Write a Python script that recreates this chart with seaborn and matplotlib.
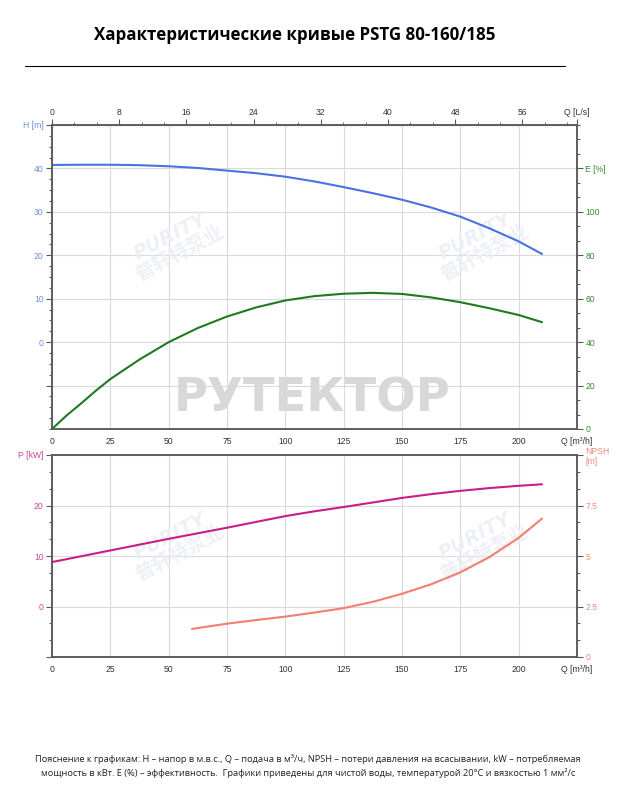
import matplotlib
matplotlib.use("Agg")
import matplotlib.pyplot as plt
from matplotlib import font_manager
from matplotlib.ticker import MultipleLocator
import seaborn as sns

# head curve H [m] vs Q [m3/h]
q_head = [0, 12.5, 25, 37.5, 50, 62.5, 75, 87.5, 100, 112.5, 125, 137.5, 150, 162.5, 175, 187.5, 200, 210]
head_m = [40.8, 40.85, 40.85, 40.75, 40.5, 40.1, 39.5, 38.9, 38.1, 37.0, 35.7, 34.3, 32.8, 31.0, 28.9, 26.2, 23.2, 20.3]

# efficiency E [%]
q_eff = [0, 6, 12.5, 18.75, 25, 37.5, 50, 62.5, 75, 87.5, 100, 112.5, 125, 137.5, 150, 162.5, 175, 187.5, 200, 210]
eff_pct = [0, 6.0, 11.8, 17.6, 23.0, 32.0, 40.0, 46.5, 51.8, 56.0, 59.2, 61.2, 62.3, 62.7, 62.2, 60.6, 58.4, 55.6, 52.5, 49.2]

# power P [kW]
q_power = [0, 25, 50, 75, 100, 112.5, 125, 137.5, 150, 162.5, 175, 187.5, 200, 210]
power_kw = [8.8, 11.1, 13.4, 15.6, 17.9, 18.85, 19.7, 20.6, 21.5, 22.25, 22.9, 23.45, 23.9, 24.2]

# NPSH [m]
q_npsh = [60, 75, 87.5, 100, 112.5, 125, 137.5, 150, 162.5, 175, 187.5, 200, 210]
npsh_m = [1.39, 1.65, 1.83, 2.0, 2.2, 2.42, 2.73, 3.13, 3.6, 4.19, 4.95, 5.9, 6.85]

q_ticks = [0, 25, 50, 75, 100, 125, 150, 175, 200, 225]
q_labels = ["0", "25", "50", "75", "100", "125", "150", "175", "200", "Q [m³/h]"]
ls_ticks = [0, 8, 16, 24, 32, 40, 48, 56, 62.5]
ls_labels = ["0", "8", "16", "24", "32", "40", "48", "56", "Q [L/s]"]
h_ticks = [-10, 0, 10, 20, 30, 40, 50]
h_labels = ["", "0", "10", "20", "30", "40", "H [m]"]
e_ticks = [0, 20, 40, 60, 80, 100, 120]
e_labels = ["0", "20", "40", "60", "80", "100", "E [%]"]
p_ticks = [-10, 0, 10, 20, 30]
p_labels = ["", "0", "10", "20", "P [kW]"]
n_ticks = [0, 2.5, 5, 7.5, 10]
n_labels = ["0", "2.5", "5", "7.5", "NPSH\n[m]"]

title = "Характеристические кривые PSTG 80-160/185"
note = ("Пояснение к графикам: H – напор в м.в.с., Q – подача в м³/ч, NPSH – потери давления на всасывании, kW – потребляемая\n"
        "мощность в кВт. E (%) – эффективность.  Графики приведены для чистой воды, температурой 20°C и вязкостью 1 мм²/с")

C_H, C_E, C_P, C_N = "#4a72e6", "#1f7a1f", "#c81e8c", "#f27f72"
C_HT, C_ET, C_PT, C_NT = "#7090e0", "#3a8a3a", "#d6409e", "#f08878"
SPINE = "#5a5a5a"
GRID = "#dadada"

sns.set_style("white")
installed = {f.name for f in font_manager.fontManager.ttflist}
tick_font = "Liberation Sans Narrow" if "Liberation Sans Narrow" in installed else "Liberation Sans"
plt.rcParams["font.family"] = [tick_font, "DejaVu Sans"]

fig = plt.figure(figsize=(6.24, 8), dpi=100)
W, H = 624, 800
ax_h = fig.add_axes([52 / W, 1 - 429 / H, 525 / W, 304 / H])
ax_p = fig.add_axes([52 / W, 1 - 657 / H, 525 / W, 202 / H])


def style_axes(ax):
    for s in ax.spines.values():
        s.set_color(SPINE)
        s.set_linewidth(1.1)
    ax.tick_params(which="both", direction="out", colors=SPINE, width=0.8, labelsize=6.2, pad=2)
    ax.tick_params(which="major", length=4)
    ax.tick_params(which="minor", length=2)


# ---- upper chart: H and E ----
ax_h.set_xlim(0, 225)
ax_h.set_ylim(-20, 50)
ax_h.set_xticks(q_ticks, q_labels)
ax_h.set_yticks(h_ticks, h_labels)
ax_h.xaxis.set_minor_locator(MultipleLocator(6.25))
ax_h.yaxis.set_minor_locator(MultipleLocator(2.5))
ax_h.grid(True, color=GRID, lw=0.8)
style_axes(ax_h)
ax_h.tick_params(axis="y", labelcolor=C_HT)
ax_h.tick_params(axis="x", labelcolor="#333333")
sns.lineplot(x=q_head, y=head_m, ax=ax_h, color=C_H, lw=1.5, zorder=3)

ax_e = ax_h.twinx()
ax_e.set_ylim(0, 140)
ax_e.set_yticks(e_ticks, e_labels)
ax_e.yaxis.set_minor_locator(MultipleLocator(20 / 3))
style_axes(ax_e)
ax_e.tick_params(axis="y", labelcolor=C_ET)
sns.lineplot(x=q_eff, y=eff_pct, ax=ax_e, color=C_E, lw=1.5, zorder=3)

top = ax_h.secondary_xaxis("top", functions=(lambda q: q / 3.6, lambda l: l * 3.6))
top.set_xticks(ls_ticks, ls_labels)
top.xaxis.set_minor_locator(MultipleLocator(8 / 3))
top.tick_params(which="both", direction="out", colors=SPINE, labelcolor="#333333", labelsize=6.2, pad=2)
top.tick_params(which="major", length=4)
top.tick_params(which="minor", length=2)
top.spines["top"].set_color(SPINE)

# ---- lower chart: P and NPSH ----
ax_p.set_xlim(0, 225)
ax_p.set_ylim(-10, 30)
ax_p.set_xticks(q_ticks, q_labels)
ax_p.set_yticks(p_ticks, p_labels)
ax_p.xaxis.set_minor_locator(MultipleLocator(6.25))
ax_p.yaxis.set_minor_locator(MultipleLocator(10 / 3))
ax_p.grid(True, color=GRID, lw=0.8)
style_axes(ax_p)
ax_p.tick_params(axis="y", labelcolor=C_PT)
ax_p.tick_params(axis="x", labelcolor="#333333")
sns.lineplot(x=q_power, y=power_kw, ax=ax_p, color=C_P, lw=1.5, zorder=3)

ax_n = ax_p.twinx()
ax_n.set_ylim(0, 10)
ax_n.set_yticks(n_ticks, n_labels)
ax_n.yaxis.set_minor_locator(MultipleLocator(2.5 / 3))
style_axes(ax_n)
ax_n.tick_params(axis="y", labelcolor=C_NT)
sns.lineplot(x=q_npsh, y=npsh_m, ax=ax_n, color=C_N, lw=1.5, zorder=3)

for ax in (ax_h, ax_e, ax_p, ax_n):
    ax.set_xlabel("")
    ax.set_ylabel("")

# watermarks
ax_h.text(312 / W, 1 - 399 / H, "РУТЕКТОР", transform=fig.transFigure, ha="center", va="center",
          fontsize=33.5, fontweight="bold", color="#d8d8d8", family=["DejaVu Sans"], zorder=1.8)
for (wx, wy), ax in [((175, 245), ax_h), ((480, 245), ax_h), ((175, 545), ax_p), ((480, 545), ax_p)]:
    ax.text(wx / W, 1 - wy / H, "PURITY\n普轩特泵业", transform=fig.transFigure, ha="center", va="center",
            rotation=28, fontsize=14, fontweight="bold", style="italic", color="#edf0f5",
            family=["DejaVu Sans", "Noto Sans CJK SC"], linespacing=0.95, zorder=1.8)

# title, rule, note
fig.text(295 / W, 1 - 35 / H, title, ha="center", va="center", fontsize=12.2, fontweight="bold",
         family=["Open Sans", "DejaVu Sans"], color="black")
fig.add_artist(plt.Line2D([25 / W, 565 / W], [1 - 66 / H, 1 - 66 / H], color="black", lw=0.8,
                          transform=fig.transFigure))
fig.text(308 / W, 1 - 766 / H, note, ha="center", va="center", fontsize=6.7, linespacing=1.4,
         family=["Open Sans", "DejaVu Sans"], color="#222222")

fig.savefig("out.png", dpi=100, facecolor="white")
